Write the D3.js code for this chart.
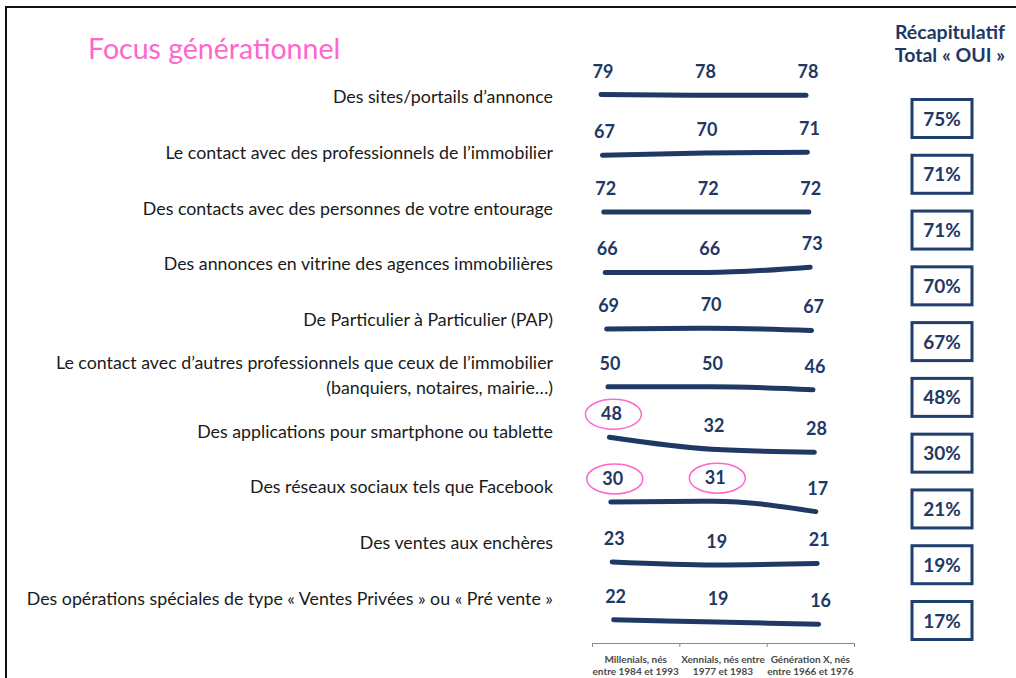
<!DOCTYPE html>
<html>
<head>
<meta charset="utf-8">
<script src="https://cdn.jsdelivr.net/npm/d3@7"></script>
<style>
  body { margin: 0; background: #fff; }
  text { font-family: Lato, "Open Sans", sans-serif; }
</style>
</head>
<body>
<script>
'use strict';

const w = 1016;
const h = 678;

// data
const categories = [
  'Des sites/portails d\u2019annonce',
  'Le contact avec des professionnels de l\u2019immobilier',
  'Des contacts avec des personnes de votre entourage',
  'Des annonces en vitrine des agences immobili\u00e8res',
  'De Particulier \u00e0 Particulier (PAP)',
  'Le contact avec d\u2019autres professionnels que ceux de l\u2019immobilier|(banquiers, notaires, mairie\u2026)',
  'Des applications pour smartphone ou tablette',
  'Des r\u00e9seaux sociaux tels que Facebook',
  'Des ventes aux ench\u00e8res',
  'Des op\u00e9rations sp\u00e9ciales de type \u00ab Ventes Priv\u00e9es \u00bb ou \u00ab Pr\u00e9 vente \u00bb'
];
const generations = [
  'Millenials, n\u00e9s|entre 1984 et 1993',
  'Xennials, n\u00e9s entre|1977 et 1983',
  'G\u00e9n\u00e9ration X, n\u00e9s|entre 1966 et 1976'
];
const millenials = [79, 67, 72, 66, 69, 50, 48, 30, 23, 22];
const xennials = [78, 70, 72, 66, 70, 50, 32, 31, 19, 19];
const genX = [78, 71, 72, 73, 67, 46, 28, 17, 21, 16];
const totalOui = [75, 71, 71, 70, 67, 48, 30, 21, 19, 17];
// [row, generation] of the circled values
const highlights = [[6, 0], [7, 0], [7, 1]];

const navy = '#1f3864';
const pink = '#ff66cc';

const svg = d3.select('body').append('svg').attr('width', w).attr('height', h);
/////////////////////////////////////////

// frame (left and top edges only)
svg.append('path')
  .attr('d', `M6,${h} V7 H${w}`)
  .attr('fill', 'none')
  .attr('stroke', '#111')
  .attr('stroke-width', 2);

// title
svg.append('text')
  .text('Focus g\u00e9n\u00e9rationnel')
  .attr('x', 88)
  .attr('y', 59)
  .attr('font-size', 28.5)
  .attr('fill', pink);

// row positions
const idx = d3.range(categories.length);
const yLabel = d3.scaleLinear().domain([0, 9]).range([97, 599]);
const yLine = d3.scaleLinear().domain([0, 9]).range([95, 622]);
const yBox = d3.scaleLinear().domain([0, 9]).range([118.5, 620.5]);
const xPt = d3.scalePoint().domain([0, 1, 2]).range([601, 806]);
const dev = d3.scaleLinear().domain([0, 1]).range([0, -0.75]);

const rows = idx.map((i) => {
  const vals = [millenials[i], xennials[i], genX[i]];
  const m = d3.mean(vals);
  return vals.map((v, g) => ({
    row: i,
    gen: g,
    v: v,
    x: xPt(g) + i * 1.4,
    y: yLine(i) + dev(v - m)
  }));
});

// category labels
svg.selectAll('text.cat')
  .data(idx)
  .enter()
  .append('text')
  .attr('class', 'cat')
  .attr('text-anchor', 'end')
  .attr('font-size', 17.8)
  .attr('fill', '#1a1a1a')
  .each(function (i) {
    const parts = categories[i].split('|');
    const t = d3.select(this);
    const y0 = yLabel(i) + 6 - (parts.length - 1) * 12.5;
    parts.forEach((p, k) => {
      t.append('tspan').attr('x', 553).attr('y', y0 + k * 25).text(p);
    });
  });

// lines
const line = d3.line().x((d) => d.x).y((d) => d.y).curve(d3.curveMonotoneX);
svg.selectAll('path.gen')
  .data(rows)
  .enter()
  .append('path')
  .attr('class', 'gen')
  .attr('d', line)
  .attr('fill', 'none')
  .attr('stroke', navy)
  .attr('stroke-width', 5)
  .attr('stroke-linecap', 'round');

// values above the lines
svg.selectAll('text.val')
  .data(rows.flat())
  .enter()
  .append('text')
  .attr('class', 'val')
  .text((d) => d.v)
  .attr('x', (d) => d.x + 2)
  .attr('y', (d) => d.y - 17)
  .attr('text-anchor', 'middle')
  .attr('font-size', 18)
  .attr('font-weight', 700)
  .attr('fill', navy);

// circled values
svg.selectAll('ellipse.hl')
  .data(highlights.map(([r, g]) => rows[r][g]))
  .enter()
  .append('ellipse')
  .attr('class', 'hl')
  .attr('cx', (d) => d.x + 4)
  .attr('cy', (d) => d.y - 23)
  .attr('rx', 28)
  .attr('ry', 15)
  .attr('fill', 'none')
  .attr('stroke', pink)
  .attr('stroke-width', 1.5);

// summary column
svg.append('text')
  .attr('text-anchor', 'middle')
  .attr('font-size', 19.5)
  .attr('font-weight', 700)
  .attr('fill', navy)
  .selectAll('tspan')
  .data(['R\u00e9capitulatif', 'Total \u00ab OUI \u00bb'])
  .enter()
  .append('tspan')
  .attr('x', 950)
  .attr('y', (d, k) => 39 + k * 23)
  .text((d) => d);

svg.selectAll('rect.tot')
  .data(totalOui)
  .enter()
  .append('rect')
  .attr('class', 'tot')
  .attr('x', 912)
  .attr('y', (d, i) => yBox(i) - 19)
  .attr('width', 60)
  .attr('height', 38)
  .attr('fill', 'none')
  .attr('stroke', '#1f3f6e')
  .attr('stroke-width', 3);

svg.selectAll('text.tot')
  .data(totalOui)
  .enter()
  .append('text')
  .attr('class', 'tot')
  .text((d) => d + '%')
  .attr('x', 942)
  .attr('y', (d, i) => yBox(i) + 7)
  .attr('text-anchor', 'middle')
  .attr('font-size', 19)
  .attr('font-weight', 700)
  .attr('fill', navy);

// generation axis
const xAxis = d3.scaleLinear().domain([0, 3]).range([592, 854]);
const xBand = d3.scaleBand().domain(d3.range(3)).range([592, 854]);
const axisG = svg.append('g')
  .attr('transform', 'translate(0,643)')
  .call(d3.axisBottom(xAxis).tickValues([0, 1, 2, 3]).tickSize(4).tickFormat(''));
axisG.selectAll('path, line').attr('stroke', '#888');

svg.selectAll('text.genlbl')
  .data(generations)
  .enter()
  .append('text')
  .attr('class', 'genlbl')
  .attr('text-anchor', 'middle')
  .attr('font-size', 10)
  .attr('font-weight', 700)
  .attr('fill', '#4a4a4a')
  .each(function (d, g) {
    const t = d3.select(this);
    d.split('|').forEach((p, k) => {
      t.append('tspan')
        .attr('x', xBand(g) + xBand.bandwidth() / 2)
        .attr('y', 663 + k * 12)
        .text(p);
    });
  });
</script>
</body>
</html>
